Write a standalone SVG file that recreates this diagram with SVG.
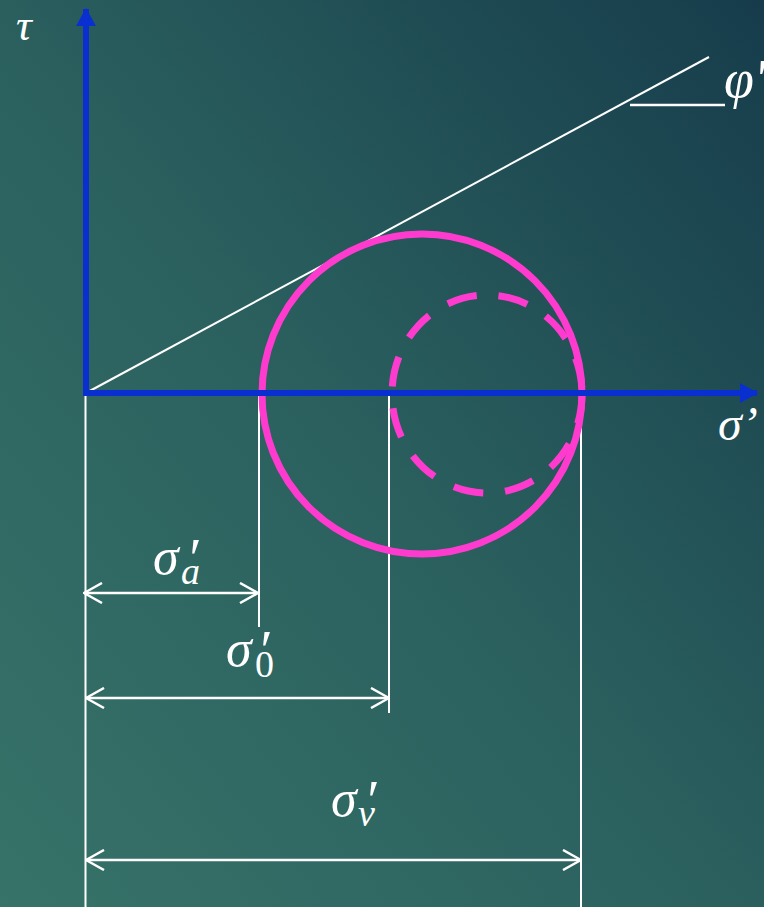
<svg xmlns="http://www.w3.org/2000/svg" width="764" height="907" viewBox="0 0 764 907">
<defs>
<linearGradient id="bg" x1="0" y1="1" x2="1" y2="0">
<stop offset="0" stop-color="#377369"/>
<stop offset="0.5" stop-color="#2a5f5e"/>
<stop offset="1" stop-color="#163c4b"/>
</linearGradient>
<marker id="ax" viewBox="0 0 18 20" refX="17" refY="10" markerWidth="18" markerHeight="20" markerUnits="userSpaceOnUse" orient="auto">
<path d="M0,0 L18,10 L0,20 Z" fill="#0a2fd0"/>
</marker>
<marker id="dim" viewBox="0 0 20 22" refX="19" refY="11" markerWidth="20" markerHeight="22" markerUnits="userSpaceOnUse" orient="auto-start-reverse">
<path d="M1,1 L19,11 L1,21" fill="none" stroke="#ffffff" stroke-width="2.5"/>
</marker>
</defs>
<style>
.ax{stroke:#0a2fd0;stroke-width:6;fill:none}
.wl{stroke:#ffffff;stroke-width:2;fill:none}
.dl{stroke:#ffffff;stroke-width:2.5;fill:none}
.lbl{font-family:"Liberation Serif","DejaVu Serif",serif;font-style:italic;fill:#ffffff}
.up{font-style:normal}
.sig{font-size:52px}
.pr{font-size:56px}
.sub{font-size:38px}
.circ{stroke:#ff3bcf;stroke-width:7;fill:none}
</style>
<rect x="0" y="0" width="764" height="907" fill="url(#bg)"/>
<g id="extension-lines">
<line class="wl" x1="85.5" y1="393" x2="85.5" y2="907"/>
<line class="wl" x1="259" y1="393" x2="259" y2="627"/>
<line class="wl" x1="389" y1="393" x2="389" y2="713"/>
<line class="wl" x1="581" y1="393" x2="581" y2="907"/>
</g>
<g id="envelope">
<line class="wl" x1="86" y1="393" x2="709" y2="57"/>
<line class="dl" x1="630" y1="105" x2="725" y2="105"/>
</g>
<g id="mohr-circle">
<circle class="circ" cx="422" cy="394" r="160"/>
</g>
<g id="initial-circle">
<ellipse class="circ" cx="487" cy="394" rx="95" ry="99" stroke-dasharray="30 22"/>
</g>
<g id="axes">
<line class="ax" x1="86" y1="396" x2="86" y2="9" marker-end="url(#ax)"/>
<line class="ax" x1="83" y1="393" x2="757" y2="393" marker-end="url(#ax)"/>
</g>
<g id="connectors">
<line class="dl" x1="84" y1="593" x2="258" y2="593" marker-start="url(#dim)" marker-end="url(#dim)"/>
<line class="dl" x1="86" y1="698" x2="389" y2="698" marker-start="url(#dim)" marker-end="url(#dim)"/>
<line class="dl" x1="86" y1="860" x2="581" y2="860" marker-start="url(#dim)" marker-end="url(#dim)"/>
</g>
<g id="labels">
<text class="lbl" x="16" y="40" font-size="44">τ</text>
<text class="lbl" x="724" y="97" font-size="54">φ'</text>
<text class="lbl" x="718" y="440" font-size="48">σ’</text>
<text class="lbl sig" x="153" y="574">σ</text>
<text class="lbl pr" x="186" y="578">′</text>
<text class="lbl sub" x="181" y="584">a</text>
<text class="lbl sig" x="226" y="666">σ</text>
<text class="lbl pr" x="257" y="670">′</text>
<text class="lbl sub up" x="255" y="677">0</text>
<text class="lbl sig" x="331" y="816">σ</text>
<text class="lbl pr" x="364" y="820">′</text>
<text class="lbl sub" x="358" y="826">v</text>
</g>
</svg>
